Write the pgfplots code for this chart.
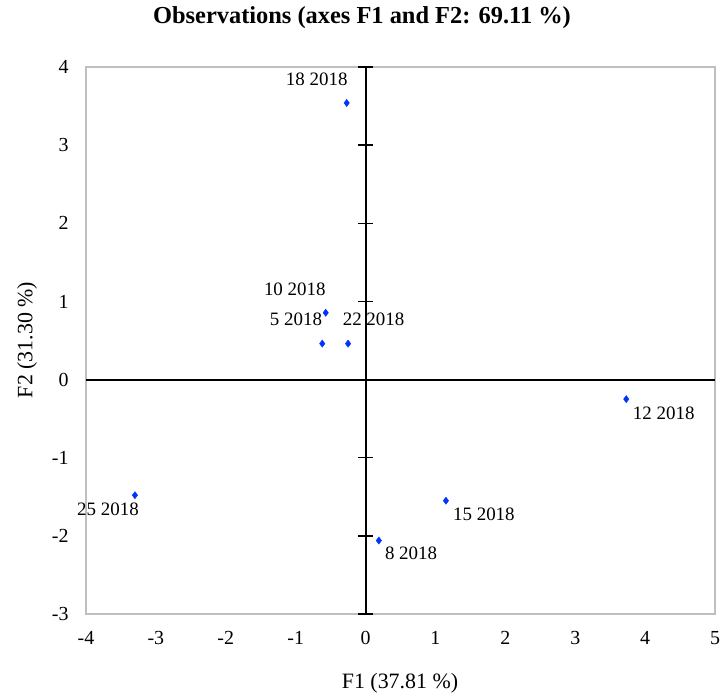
\documentclass[border=0pt]{standalone}
\usepackage{fontspec}
\setmainfont{Liberation Serif}
\usepackage{pgfplots}
\pgfplotsset{compat=1.18}
\definecolor{ptblue}{RGB}{0,51,255}
\definecolor{framegray}{RGB}{191,191,191}

\begin{document}
\begin{tikzpicture}[x=1bp,y=1bp]
  \path[use as bounding box] (-86,-86) rectangle (637,614);
  \begin{axis}[
    at={(0,0)}, anchor=south west,
    scale only axis, width=629bp, height=547bp,
    xmin=-4, xmax=5, ymin=-3, ymax=4,
    xtick={-4,-3,-2,-1,0,1,2,3,4,5},
    ytick={-3,-2,-1,0,1,2,3,4},
    major tick length=0pt,
    axis line style={framegray, line width=1.2bp},
    tick label style={font=\fontsize{20}{22}\selectfont, text=black},
    /pgf/number format/assume math mode=true,
    xticklabel style={yshift=-14bp},
    yticklabel style={xshift=-14bp},
    clip=false,
  ]
    % central axes
    \draw[black, line width=2bp] (axis cs:-4,0) -- (axis cs:5,0);
    \draw[black, line width=2bp] (axis cs:0,-3) -- (axis cs:0,4);
    \pgfplotsinvokeforeach{-3,-2,-1,0,1,2,3,4}{
      \draw[black, line width=1.4bp] ([xshift=-7.5bp]axis cs:0,#1) -- ([xshift=7.5bp]axis cs:0,#1);
    }
    % observations
    \addplot[only marks, mark=diamond*, mark size=3.6bp, color=ptblue] coordinates {
      (-0.27,3.54) (-0.57,0.855) (-0.62,0.46) (-0.25,0.46)
      (3.73,-0.25) (-3.30,-1.48) (1.15,-1.55) (0.19,-2.06)
    };
    \begin{scope}[every node/.style={inner sep=0pt, font=\fontsize{19}{21}\selectfont}]
      \node[anchor=base east] at ([xshift=1bp,yshift=17bp]axis cs:-0.27,3.54) {18 2018};
      \node[anchor=base east] at ([xshift=0bp,yshift=17bp]axis cs:-0.57,0.855) {10 2018};
      \node[anchor=base east] at ([xshift=0bp,yshift=18bp]axis cs:-0.62,0.46) {5 2018};
      \node[anchor=base west] at ([xshift=-5.5bp,yshift=18bp]axis cs:-0.25,0.46) {22 2018};
      \node[anchor=base west] at ([xshift=6.5bp,yshift=-20bp]axis cs:3.73,-0.25) {12 2018};
      \node[anchor=base east] at ([xshift=4bp,yshift=-20bp]axis cs:-3.30,-1.48) {25 2018};
      \node[anchor=base west] at ([xshift=7bp,yshift=-20bp]axis cs:1.15,-1.55) {15 2018};
      \node[anchor=base west] at ([xshift=6bp,yshift=-19bp]axis cs:0.19,-2.06) {8 2018};
    \end{scope}
  \end{axis}
  \node[font=\fontsize{24.5}{27}\selectfont\bfseries] at (276,596) {Observations (axes F1 and F2: 69.11 \%)};
  \node[font=\fontsize{22}{24}\selectfont] at (314,-69) {F1 (37.81 \%)};
  \node[font=\fontsize{22}{24}\selectfont, rotate=90] at (-59,274) {F2 (31.30 \%)};
\end{tikzpicture}
\end{document}
